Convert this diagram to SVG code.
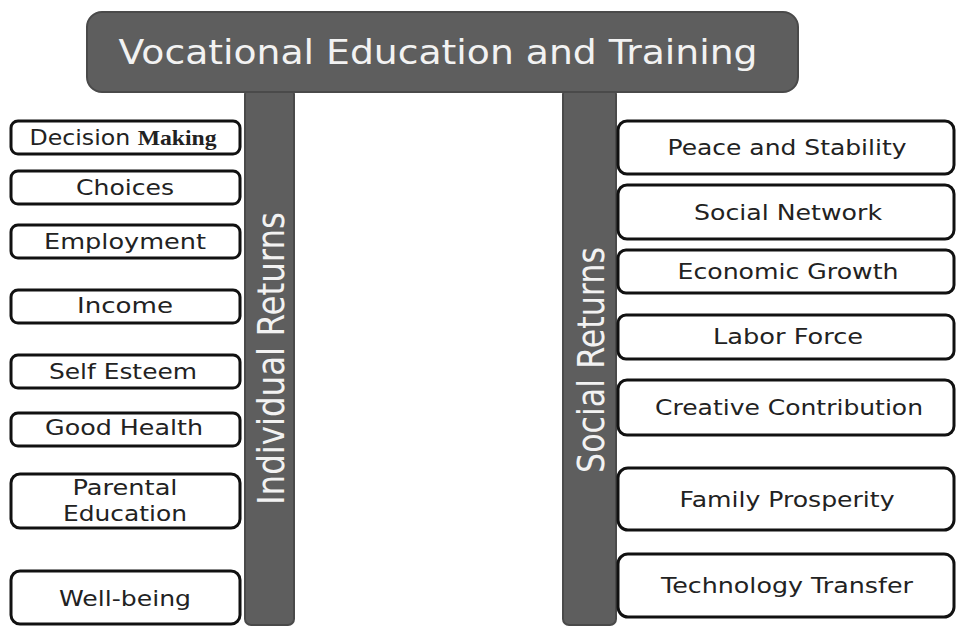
<svg xmlns="http://www.w3.org/2000/svg" width="957" height="627" viewBox="0 0 957 627">
<style>
.box{fill:#ffffff;stroke:#111111;stroke-width:3}
.bar{fill:#5e5e5e;stroke:#4a4a4a;stroke-width:2}
.t{font-family:"DejaVu Sans","Liberation Sans",sans-serif;font-size:21px;fill:#222222;text-anchor:middle}
.w{font-family:"DejaVu Sans","Liberation Sans",sans-serif;fill:#f2f2f2;text-anchor:middle}
.ser{font-family:"Liberation Serif",serif;font-weight:bold}
</style>
<rect width="957" height="627" fill="#ffffff"/>
<g id="connectors">
<rect class="bar" x="245" y="88" width="49" height="537" rx="6"/>
<rect class="bar" x="563" y="88" width="53" height="537" rx="6"/>
</g>
<g id="title">
<rect class="bar" x="87" y="12" width="711" height="80" rx="15" fill="#616161"/>
<text class="w" x="438" y="64" font-size="34" textLength="639" lengthAdjust="spacingAndGlyphs">Vocational Education and Training</text>
</g>
<g id="individual-returns">
<text class="w" transform="translate(284,358.5) rotate(-90)" font-size="38" textLength="293" lengthAdjust="spacingAndGlyphs">Individual Returns</text>
</g>
<g id="social-returns">
<text class="w" transform="translate(604,360) rotate(-90)" font-size="38" textLength="226" lengthAdjust="spacingAndGlyphs">Social Returns</text>
</g>
<g id="decision-making"><rect class="box" x="11" y="121" width="229" height="33" rx="7"/><text class="t" x="123" y="145" textLength="187" lengthAdjust="spacingAndGlyphs">Decision <tspan class="ser">Making</tspan></text></g>
<g id="choices"><rect class="box" x="11" y="171" width="229" height="33" rx="7"/><text class="t" x="125" y="195" textLength="98" lengthAdjust="spacingAndGlyphs">Choices</text></g>
<g id="employment"><rect class="box" x="11" y="225" width="229" height="33" rx="7"/><text class="t" x="125" y="249" textLength="162" lengthAdjust="spacingAndGlyphs">Employment</text></g>
<g id="income"><rect class="box" x="11" y="290" width="229" height="33" rx="7"/><text class="t" x="125" y="313" textLength="96" lengthAdjust="spacingAndGlyphs">Income</text></g>
<g id="self-esteem"><rect class="box" x="11" y="355" width="229" height="33" rx="7"/><text class="t" x="123" y="379" textLength="148" lengthAdjust="spacingAndGlyphs">Self Esteem</text></g>
<g id="good-health"><rect class="box" x="11" y="413" width="229" height="33" rx="7"/><text class="t" x="124" y="435" textLength="158" lengthAdjust="spacingAndGlyphs">Good Health</text></g>
<g id="parental-education"><rect class="box" x="11" y="474" width="229" height="54" rx="9"/><text class="t" x="125" y="495" textLength="105" lengthAdjust="spacingAndGlyphs">Parental</text><text class="t" x="125" y="521" textLength="124" lengthAdjust="spacingAndGlyphs">Education</text></g>
<g id="well-being"><rect class="box" x="11" y="571" width="229" height="53" rx="9"/><text class="t" x="125" y="606" textLength="132" lengthAdjust="spacingAndGlyphs">Well-being</text></g>
<g id="peace-and-stability"><rect class="box" x="618" y="121" width="336" height="53" rx="9"/><text class="t" x="787" y="155" textLength="239" lengthAdjust="spacingAndGlyphs">Peace and Stability</text></g>
<g id="social-network"><rect class="box" x="618" y="185" width="336" height="54" rx="9"/><text class="t" x="788" y="220" textLength="188" lengthAdjust="spacingAndGlyphs">Social Network</text></g>
<g id="economic-growth"><rect class="box" x="618" y="250" width="336" height="43" rx="8"/><text class="t" x="788" y="279" textLength="221" lengthAdjust="spacingAndGlyphs">Economic Growth</text></g>
<g id="labor-force"><rect class="box" x="618" y="315" width="336" height="44" rx="8"/><text class="t" x="788" y="344" textLength="150" lengthAdjust="spacingAndGlyphs">Labor Force</text></g>
<g id="creative-contribution"><rect class="box" x="618" y="380" width="336" height="55" rx="9"/><text class="t" x="789" y="415" textLength="268" lengthAdjust="spacingAndGlyphs">Creative Contribution</text></g>
<g id="family-prosperity"><rect class="box" x="618" y="468" width="336" height="62" rx="10"/><text class="t" x="787" y="507" textLength="215" lengthAdjust="spacingAndGlyphs">Family Prosperity</text></g>
<g id="technology-transfer"><rect class="box" x="618" y="554" width="336" height="63" rx="10"/><text class="t" x="787" y="593" textLength="252" lengthAdjust="spacingAndGlyphs">Technology Transfer</text></g>
</svg>
